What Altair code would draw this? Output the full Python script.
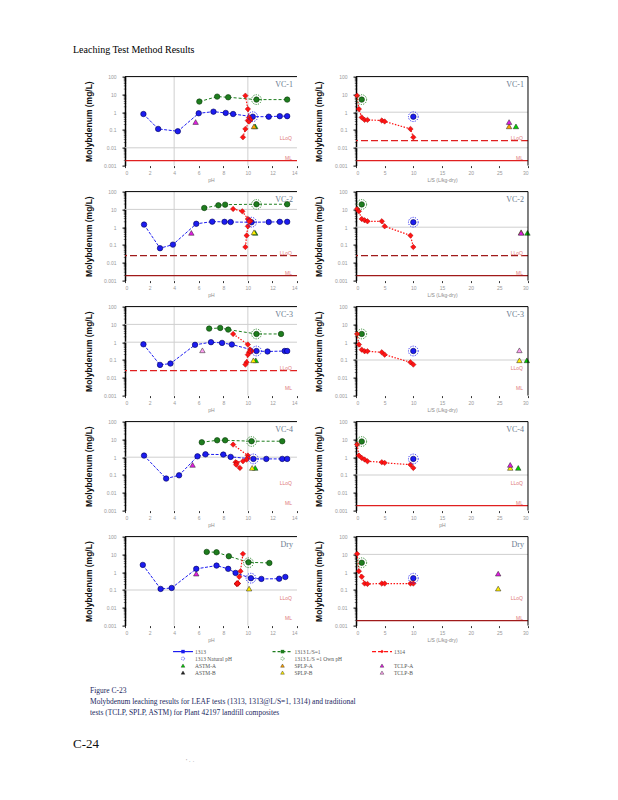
import altair as alt
import pandas as pd

# ---------------------------------------------------------------- data
samples = ["VC-1", "VC-2", "VC-3", "VC-4", "Dry"]

# Method 1313 (pH dependence): eluate pH and Mo (mg/L)
ph_1313 = {
    "VC-1": [1.5, 2.7, 4.3, 6.0, 7.2, 8.2, 8.8, 10.4, 11.7, 12.6, 13.2],
    "VC-2": [1.55, 2.85, 3.9, 5.8, 7.1, 8.1, 8.6, 10.3, 11.7, 12.6, 13.2],
    "VC-3": [1.5, 2.85, 3.7, 5.7, 7.0, 7.9, 8.7, 10.7, 11.6, 13.0, 13.2],
    "VC-4": [1.55, 3.35, 4.4, 5.9, 6.55, 8.0, 8.6, 10.45, 11.5, 12.8, 13.2],
    "Dry": [1.45, 2.9, 3.8, 5.8, 7.45, 8.4, 9.0, 10.25, 11.1, 12.55, 13.05],
}
mo_1313 = {
    "VC-1": [0.79, 0.115, 0.085, 0.87, 1.07, 0.91, 0.79, 0.56, 0.56, 0.60, 0.60],
    "VC-2": [1.4, 0.066, 0.105, 1.55, 2.05, 2.0, 1.95, 1.9, 1.95, 2.0, 2.0],
    "VC-3": [0.76, 0.053, 0.063, 0.71, 1.0, 0.91, 0.74, 0.32, 0.30, 0.32, 0.32],
    "VC-4": [1.23, 0.063, 0.096, 1.12, 1.45, 1.4, 1.04, 0.8, 0.8, 0.8, 0.8],
    "Dry": [2.57, 0.115, 0.13, 1.54, 2.35, 1.54, 0.91, 0.46, 0.42, 0.43, 0.54],
}
# 1313 natural pH point (also plotted at L/S = 10)
nat_ph_1313 = {"VC-1": 10.4, "VC-2": 10.3, "VC-3": 10.7, "VC-4": 10.45, "Dry": 10.25}
nat_mo_1313 = {"VC-1": 0.56, "VC-2": 1.9, "VC-3": 0.32, "VC-4": 0.8, "Dry": 0.46}
nat_ls_1313 = 10.0

# 1313 at L/S = 1
ph_ls1 = {
    "VC-1": [6.05, 7.5, 8.4, 10.7, 13.2],
    "VC-2": [6.45, 7.6, 8.15, 10.7, 13.2],
    "VC-3": [6.85, 7.75, 8.4, 10.7, 12.7],
    "VC-4": [6.25, 7.5, 8.15, 10.3, 12.8],
    "Dry": [6.65, 7.45, 8.45, 10.05, 11.75],
}
mo_ls1 = {
    "VC-1": [3.95, 7.5, 6.9, 5.1, 5.1],
    "VC-2": [12.0, 17.0, 18.5, 19.5, 19.5],
    "VC-3": [5.8, 6.3, 5.1, 2.9, 2.9],
    "VC-4": [6.9, 8.9, 8.9, 7.9, 7.9],
    "Dry": [13.8, 13.2, 7.9, 3.6, 3.3],
}
own_ph_ls1 = {"VC-1": 10.7, "VC-2": 10.7, "VC-3": 10.7, "VC-4": 10.3, "Dry": 10.05}
own_mo_ls1 = {"VC-1": 5.1, "VC-2": 19.0, "VC-3": 2.9, "VC-4": 7.6, "Dry": 3.4}
own_ls_ls1 = 1.0

# 1314 column test
ls_1314 = [0.2, 0.5, 1.0, 1.5, 2.0, 4.5, 5.0, 9.5, 10.0]
ph_1314 = {
    "VC-1": [9.8, 10.0, 10.1, 10.2, 10.2, 10.0, 10.1, 9.8, 9.6],
    "VC-2": [8.8, 9.55, 10.0, 10.15, 10.2, 10.1, 10.0, 9.9, 9.8],
    "VC-3": [8.8, 10.0, 10.2, 10.3, 10.2, 10.1, 10.0, 9.9, 9.8],
    "VC-4": [8.8, 10.0, 10.0, 9.9, 9.6, 9.0, 9.1, 9.05, 9.35],
    "Dry": [9.6, 9.4, 9.3, 9.15, 9.1, 9.15, 9.2, 9.1, 9.15],
}
mo_1314 = {
    "VC-1": [8.5, 1.5, 0.51, 0.37, 0.37, 0.34, 0.30, 0.115, 0.039],
    "VC-2": [10.6, 7.8, 2.9, 2.45, 2.15, 2.15, 1.12, 0.34, 0.077],
    "VC-3": [2.9, 0.74, 0.38, 0.31, 0.31, 0.27, 0.20, 0.074, 0.055],
    "VC-4": [5.1, 1.23, 0.91, 0.74, 0.59, 0.52, 0.48, 0.38, 0.25],
    "Dry": [10.7, 1.14, 0.55, 0.23, 0.22, 0.23, 0.23, 0.23, 0.23],
}

# traditional single-point tests
trad_test = {
    "VC-1": ["ASTM-A", "SPLP-A", "TCLP-A"],
    "VC-2": ["ASTM-A", "SPLP-B", "TCLP-A"],
    "VC-3": ["ASTM-A", "SPLP-B", "TCLP-B"],
    "VC-4": ["ASTM-A", "SPLP-B", "TCLP-A"],
    "Dry": ["SPLP-B", "TCLP-A"],
}
trad_ph = {
    "VC-1": [10.6, 10.5, 5.75], "VC-2": [10.6, 10.5, 5.4], "VC-3": [10.65, 10.45, 6.3],
    "VC-4": [10.6, 10.35, 5.5], "Dry": [10.1, 5.8],
}
trad_ls = {
    "VC-1": [27.9, 26.7, 26.7], "VC-2": [29.9, 28.8, 28.8], "VC-3": [29.8, 28.5, 28.5],
    "VC-4": [28.3, 26.9, 26.9], "Dry": [24.8, 24.8],
}
trad_mo = {
    "VC-1": [0.16, 0.16, 0.28], "VC-2": [0.48, 0.52, 0.48], "VC-3": [0.096, 0.096, 0.35],
    "VC-4": [0.25, 0.25, 0.37], "Dry": [0.12, 0.83],
}
test_colors = {"TCLP-A": "#e01ee0", "TCLP-B": "#ff9ff0", "SPLP-A": "#ffa500",
               "SPLP-B": "#ffee00", "ASTM-A": "#00d000", "ASTM-B": "#202020"}

# reference lines
LLOQ = 0.025
ML = 0.0019
gray_left = {"VC-1": [0.01], "VC-2": [10], "VC-3": [10, 1], "VC-4": [1], "Dry": [0.1]}
gray_right = {"VC-1": [1, 0.01], "VC-2": [1], "VC-3": [0.1], "VC-4": [0.1], "Dry": [10]}
vgrid_ph = [4, 10]
ref_lines = {
    ("VC-1", "L"): [("ML", "#e02020")],
    ("VC-1", "R"): [("LLoQ", "#e02020"), ("ML", "#e02020")],
    ("VC-2", "L"): [("LLoQ", "#a01a1a"), ("ML", "#a01a1a")],
    ("VC-2", "R"): [("LLoQ", "#a01a1a"), ("ML", "#a01a1a")],
    ("VC-3", "L"): [("LLoQ", "#e02020")],
    ("VC-4", "R"): [("ML", "#e02020")],
    ("Dry", "R"): [("ML", "#a01a1a")],
}

leg_labels = ["1313", "1313 L/S=1", "1314", "1313 Natural pH", "1313 L/S =1 Own pH",
              "ASTM-A", "SPLP-A", "TCLP-A", "ASTM-B", "SPLP-B", "TCLP-B"]
leg_col = [0, 1, 2, 0, 1, 0, 1, 2, 0, 1, 2]
leg_row = [0, 0, 0, 1, 1, 2, 2, 2, 3, 3, 3]

caption = ["Figure C-23",
           "Molybdenum leaching results for LEAF tests (1313, 1313@L/S=1, 1314) and traditional",
           "tests (TCLP, SPLP, ASTM) for Plant 42197 landfill composites"]

# ---------------------------------------------------------------- style
W, H = 172, 89
BLUE, BLUE_E = "#1c1cf0", "#00005a"
GREEN, GREEN_E = "#1e7d1e", "#0a3a0a"
RED, RED_E = "#ff1414", "#9a0000"
YVALS = [0.001, 0.01, 0.1, 1, 10, 100]
MINOR = [m * 10.0 ** k for k in range(-3, 2) for m in range(2, 10)]


def Y(f):
    return alt.Y(f, type="quantitative",
                 scale=alt.Scale(type="log", domain=[0.001, 100], nice=False),
                 axis=alt.Axis(values=YVALS, format="~g", labelFontSize=5, labelColor="#9a9a9a",
                               labelFont="Liberation Sans", tickSize=3, tickColor="#000",
                               domainColor="#000", domainWidth=1.5, grid=False, labelPadding=6,
                               title="Molybdenum (mg/L)", titleFont="Liberation Sans",
                               titleFontSize=8.5, titleFontWeight="bold", titleColor="#111",
                               titleX=-37, titleY=H / 2, titleAngle=270,
                               titleBaseline="middle", titleAlign="center"))


def panel(s, side):
    left = side == "L"
    xdom = [0, 14] if left else [0, 30]
    xvals = list(range(0, 15, 2)) if left else list(range(0, 31, 5))
    xtitle = "pH" if (left or s == "VC-4") else "L/S (L/kg-dry)"

    def X(f):
        return alt.X(f, type="quantitative", scale=alt.Scale(domain=xdom, nice=False, zero=False),
                     axis=alt.Axis(values=xvals, labelFontSize=5, labelColor="#9a9a9a",
                                   labelFont="Liberation Sans", tickSize=2, tickColor="#333",
                                   domain=False, grid=False, labelPadding=3, title=xtitle,
                                   titleFontSize=5, titleColor="#8a8a8a", titleFont="Liberation Sans",
                                   titleFontWeight="normal", titlePadding=2))

    L = []
    one = pd.DataFrame({"t": [0]})
    if left:
        L.append(alt.Chart(pd.DataFrame({"v": vgrid_ph})).mark_rule(color="#cfcfcf", strokeWidth=1)
                 .encode(x=X("v")))
    g = gray_left[s] if left else gray_right[s]
    L.append(alt.Chart(pd.DataFrame({"v": g})).mark_rule(color="#cfcfcf", strokeWidth=1)
             .encode(y=Y("v")))
    for kind, col in ref_lines.get((s, side), []):
        val = LLOQ if kind == "LLoQ" else ML
        if kind == "LLoQ":
            m = alt.Chart(pd.DataFrame({"v": [val]})).mark_rule(color=col, strokeWidth=1.3, strokeDash=[7, 3])
        else:
            m = alt.Chart(pd.DataFrame({"v": [val]})).mark_rule(color=col, strokeWidth=1.3)
        L.append(m.encode(y=Y("v")))
    L.append(alt.Chart(pd.DataFrame({"v": [LLOQ, ML], "t": ["LLoQ", "ML"]}))
             .mark_text(align="right", baseline="middle", dy=-3, fontSize=5,
                        font="Liberation Sans", color="#e07a7a")
             .encode(x=alt.value(W - 5), y=Y("v"), text="t:N"))
    # minor ticks on y axis
    L.append(alt.Chart(pd.DataFrame({"v": MINOR})).mark_tick(orient="horizontal", size=2.5,
                                                                thickness=0.7, color="#000")
             .encode(x=alt.value(0), y=Y("v")))

    tri = pd.DataFrame({"x": trad_ph[s] if left else trad_ls[s], "y": trad_mo[s],
                        "c": [test_colors[t] for t in trad_test[s]]})
    r1314 = pd.DataFrame({"x": ph_1314[s] if left else ls_1314, "y": mo_1314[s], "ls": ls_1314})

    if left:
        b = pd.DataFrame({"x": ph_1313[s], "y": mo_1313[s]})
        gdf = pd.DataFrame({"x": ph_ls1[s], "y": mo_ls1[s]})
        bn = pd.DataFrame({"x": [nat_ph_1313[s]], "y": [nat_mo_1313[s]]})
        gn = pd.DataFrame({"x": [own_ph_ls1[s]], "y": [own_mo_ls1[s]]})
        L.append(alt.Chart(b).mark_line(color=BLUE, strokeWidth=1, strokeDash=[3, 1.5])
                 .encode(x=X("x"), y=Y("y")))
        L.append(alt.Chart(gdf).mark_line(color=GREEN, strokeWidth=1, strokeDash=[3, 2])
                 .encode(x=X("x"), y=Y("y")))
        L.append(alt.Chart(r1314).mark_line(color=RED, strokeWidth=1.2, strokeDash=[1.5, 1.5])
                 .encode(x=X("x"), y=Y("y"), order="ls:Q"))
    else:
        bn = pd.DataFrame({"x": [nat_ls_1313], "y": [nat_mo_1313[s]]})
        gn = pd.DataFrame({"x": [own_ls_ls1], "y": [own_mo_ls1[s]]})
        b = bn
        gdf = gn
        L.append(alt.Chart(r1314).mark_line(color=RED, strokeWidth=1.2, strokeDash=[1.5, 1.5])
                 .encode(x=X("x"), y=Y("y"), order="ls:Q"))

    L.append(alt.Chart(tri).mark_point(shape="triangle-up", filled=True, size=30, stroke="#222",
                                       strokeWidth=0.5, opacity=1)
             .encode(x=X("x"), y=Y("y"), fill=alt.Fill("c:N", scale=None)))
    L.append(alt.Chart(b).mark_circle(size=30, color=BLUE, stroke=BLUE_E, strokeWidth=0.6, opacity=1)
             .encode(x=X("x"), y=Y("y")))
    L.append(alt.Chart(gdf).mark_circle(size=30, color=GREEN, stroke=GREEN_E, strokeWidth=0.6, opacity=1)
             .encode(x=X("x"), y=Y("y")))
    L.append(alt.Chart(r1314).mark_point(shape="diamond", filled=True, size=30, color=RED,
                                         stroke=RED_E, strokeWidth=0.4, opacity=1)
             .encode(x=X("x"), y=Y("y")))
    L.append(alt.Chart(bn).mark_point(shape="circle", filled=False, size=95, color=BLUE,
                                      strokeWidth=0.9, strokeDash=[1.2, 1.2], opacity=1)
             .encode(x=X("x"), y=Y("y")))
    L.append(alt.Chart(gn).mark_point(shape="circle", filled=False, size=95, color=GREEN,
                                      strokeWidth=0.9, strokeDash=[1.2, 1.2], opacity=1)
             .encode(x=X("x"), y=Y("y")))

    # frame
    L.append(alt.Chart(one).mark_rule(color="#000", strokeWidth=1)
             .encode(x=alt.value(0), x2=alt.value(W), y=alt.value(0)))
    if not left:
        L.append(alt.Chart(one).mark_rule(color="#000", strokeWidth=1)
                 .encode(x=alt.value(W), y=alt.value(0), y2=alt.value(H)))
    L.append(alt.Chart(pd.DataFrame({"t": [s]}))
             .mark_text(align="right", baseline="middle", font="Liberation Serif", fontSize=8,
                        color="#6b7a90")
             .encode(x=alt.value(W - 4), y=alt.value(8), text="t:N"))
    if s == "VC-1" and left:
        L.append(alt.Chart(pd.DataFrame({"t": ["Leaching Test Method Results"]}))
                 .mark_text(align="left", baseline="top", font="Liberation Serif", fontSize=10,
                            color="#000")
                 .encode(x=alt.value(-52), y=alt.value(-31.4), text="t:N"))
    return alt.layer(*L).properties(width=W, height=H)


# ---------------------------------------------------------------- legend + caption
LX = alt.Scale(domain=[0, 2], range=[58, 257])
LY = alt.Scale(domain=[0, 3], range=[0, 21])
leg = pd.DataFrame({"col": leg_col, "row": leg_row, "label": leg_labels})
leg["x0"] = leg["col"] - 0.1
leg["x1"] = leg["col"] + 0.1


def lx(f):
    return alt.X(f, type="quantitative", scale=LX, axis=None)


def ly(f):
    return alt.Y(f, type="quantitative", scale=LY, axis=None)


GL = []
row0 = leg[leg["row"] == 0]
for i, (col, dash, mk) in enumerate([(BLUE, None, "square"), (GREEN, [3, 2], "square"),
                                     (RED, [4, 2], "diamond")]):
    d = row0.iloc[[i]]
    if dash is None:
        r = alt.Chart(d).mark_rule(color=col, strokeWidth=1.2)
    else:
        r = alt.Chart(d).mark_rule(color=col, strokeWidth=1.2, strokeDash=dash)
    GL.append(r.encode(x=lx("x0"), x2="x1:Q", y=ly("row")))
    GL.append(alt.Chart(d).mark_point(shape=mk, filled=True, size=12, color=col, opacity=1)
              .encode(x=lx("col"), y=ly("row")))
row1 = leg[leg["row"] == 1]
for i, col in enumerate([BLUE, GREEN]):
    GL.append(alt.Chart(row1.iloc[[i]]).mark_point(shape="circle", filled=False, size=10, color=col,
                                                   strokeWidth=0.8, strokeDash=[0.8, 0.8], opacity=1)
              .encode(x=lx("col"), y=ly("row")))
tri_leg = leg[leg["row"] >= 2].copy()
tri_leg["c"] = [test_colors[t] for t in tri_leg["label"]]
GL.append(alt.Chart(tri_leg).mark_point(shape="triangle-up", filled=True, size=14, stroke="#222",
                                        strokeWidth=0.4, opacity=1)
          .encode(x=lx("col"), y=ly("row"), fill=alt.Fill("c:N", scale=None)))
GL.append(alt.Chart(leg).mark_text(align="left", baseline="middle", dx=12, fontSize=5.5,
                                   font="Liberation Serif", color="#555")
          .encode(x=lx("col"), y=ly("row"), text="label:N"))
for i, line in enumerate(caption):
    GL.append(alt.Chart(pd.DataFrame({"t": [line]}))
              .mark_text(align="left", baseline="middle", fontSize=7.5, font="Liberation Serif",
                         color="#1a2860")
              .encode(x=alt.value(-35), y=alt.value(39 + 11 * i), text="t:N"))
GL.append(alt.Chart(pd.DataFrame({"t": ["C-24"]}))
          .mark_text(align="left", baseline="middle", fontSize=13, font="Liberation Serif", color="#111")
          .encode(x=alt.value(-52), y=alt.value(92), text="t:N"))
GL.append(alt.Chart(pd.DataFrame({"t": ["'  ·  ·"]}))
          .mark_text(align="left", baseline="middle", fontSize=6, font="Liberation Sans", color="#888")
          .encode(x=alt.value(61), y=alt.value(109), text="t:N"))
legend_chart = alt.layer(*GL).properties(width=W, height=21)

# ---------------------------------------------------------------- assemble
charts = []
for s in samples:
    charts.append(panel(s, "L"))
    charts.append(panel(s, "R"))
charts.append(legend_chart)

chart = alt.concat(*charts, columns=2, spacing={"row": 26, "column": 59}, bounds="flush") \
    .resolve_scale(x="independent", y="independent") \
    .properties(padding={"left": 65, "top": 36.6, "right": 5, "bottom": 5}) \
    .configure_view(stroke=None)

chart.save("out.html", embed_options={"renderer": "svg", "actions": False})
